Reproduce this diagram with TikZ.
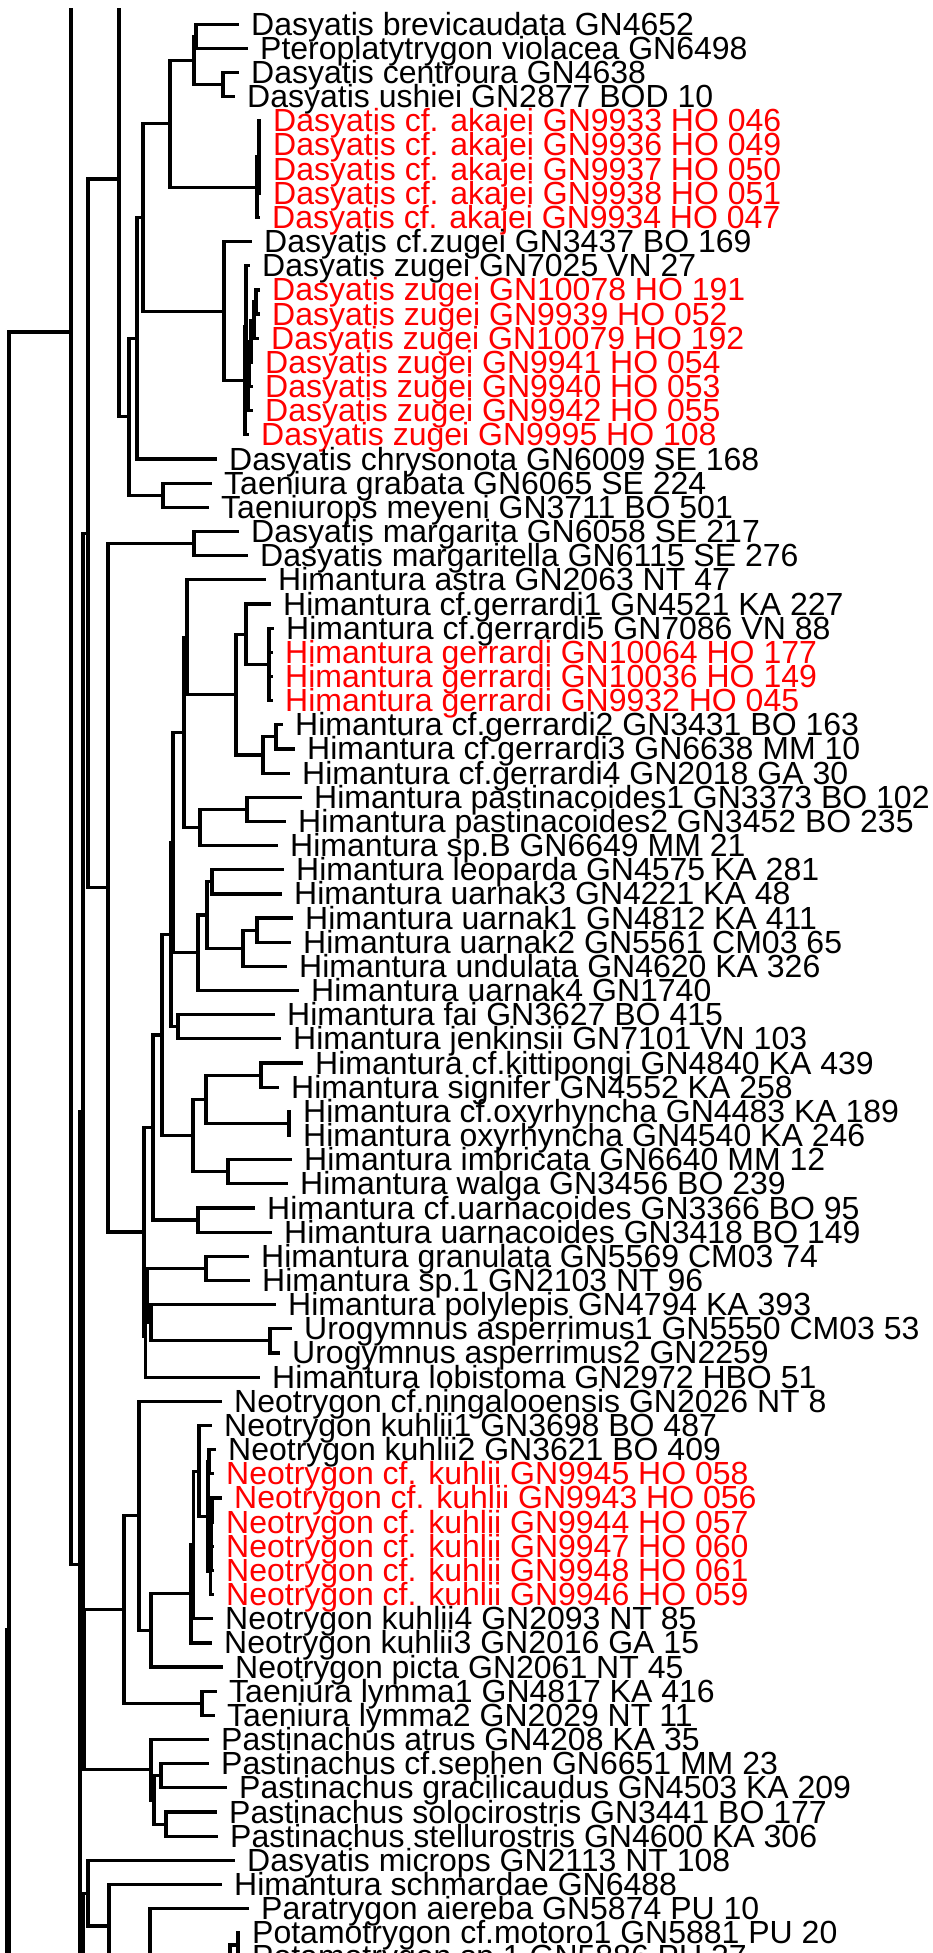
\documentclass[tikz,border=0pt]{standalone}
\usepackage{fontspec}
\setmainfont{Liberation Sans}
\definecolor{hl}{RGB}{255,0,0}
\newcommand\mkleaf[4]{\coordinate (l#1) at (#2,#1);
  \node[lab,text=#4] (t#1) at ([xshift=12pt,yshift=-11pt]l#1) {#3};}
\begin{document}
\begin{tikzpicture}[x=1pt,y=-24.16pt,
  br/.style={line width=3.2pt},
  lab/.style={inner sep=0pt,anchor=base west,font=\fontsize{32}{32}\selectfont}]
\useasboundingbox (0,0) rectangle (932,80.836);
% internal nodes
\coordinate (X7) at (7,100);
\coordinate (X7o) at (30,132);
\coordinate (X9) at (9,67.47);
\coordinate (X9o) at (40,121.2);
\coordinate (X71) at (71,13.74);
\coordinate (X71o) at (100,-37.26);
\coordinate (X80) at (80,64.74);
\coordinate (PP) at (83,83.47);
\coordinate (PPo) at (120,88.58);
\coordinate (L) at (83,46.01);
\coordinate (L2) at (84,69.94);
\coordinate (K) at (88,22.08);
\coordinate (J) at (119,7.41);
\coordinate (Jo) at (150,-2.43);
\coordinate (H) at (129,17.25);
\coordinate (G) at (137,14.0);
\coordinate (E) at (143,9.0);
\coordinate (D) at (170,5.125);
\coordinate (B) at (194,2.5);
\coordinate (A) at (196,1.5);
\coordinate (C) at (223,3.5);
\coordinate (AK) at (257,7.75);
\coordinate (AK1) at (259,6.5);
\coordinate (F) at (224,12.88);
\coordinate (VV) at (245,15.76);
\coordinate (XX) at (246,13.52);
\coordinate (YY) at (248,16.03);
\coordinate (Y2) at (249,15.06);
\coordinate (Y3) at (251,14.125);
\coordinate (Y4) at (254,13.25);
\coordinate (Y5) at (256,12.5);
\coordinate (I) at (163,20.5);
\coordinate (M) at (108,36.75);
\coordinate (N) at (194,22.5);
\coordinate (O) at (144,50.99);
\coordinate (P) at (153,46.67);
\coordinate (Q) at (162,42.84);
\coordinate (R) at (171,38.69);
\coordinate (U) at (173,34.875);
\coordinate (W) at (184,30.31);
\coordinate (V) at (187,26.375);
\coordinate (X236) at (236,28.75);
\coordinate (Y246) at (246,26.25);
\coordinate (Z) at (269,27.5);
\coordinate (N263) at (263,31.25);
\coordinate (N276) at (276,30.5);
\coordinate (N200) at (200,34.25);
\coordinate (N247) at (247,33.5);
\coordinate (N198) at (198,39.44);
\coordinate (N207) at (207,37.875);
\coordinate (N212) at (212,36.5);
\coordinate (N243) at (243,39.25);
\coordinate (N257) at (257,38.5);
\coordinate (FJ) at (178,42.5);
\coordinate (S) at (193,47.0);
\coordinate (T) at (206,45.5);
\coordinate (KS) at (261,44.5);
\coordinate (OX) at (289,46.5);
\coordinate (IW) at (228,48.5);
\coordinate (UA) at (198,50.5);
\coordinate (O4) at (145.5,55.31);
\coordinate (O3) at (147,53.625);
\coordinate (G2) at (206,52.5);
\coordinate (PU) at (151,54.75);
\coordinate (URO) at (270,55.5);
\coordinate (BB) at (124,66.62);
\coordinate (NN) at (151,73.25);
\coordinate (CC) at (139,62.74);
\coordinate (TL) at (202,70.5);
\coordinate (DD) at (151,67.49);
\coordinate (EE) at (191,65.97);
\coordinate (JJ) at (193.5,63.95);
\coordinate (GG) at (199,60.89);
\coordinate (HH) at (208,62.78);
\coordinate (N60) at (209,60.5);
\coordinate (C62) at (210.5,65.06);
\coordinate (C62c) at (211,64.125);
\coordinate (C62b) at (211.5,63.25);
\coordinate (C62a) at (212,62.5);
\coordinate (MM) at (154,74.5);
\coordinate (KK) at (161,73.5);
\coordinate (LL) at (166,75.5);
\coordinate (OO) at (88,78.36);
\coordinate (QQ) at (109,79.72);
\coordinate (RR) at (150,81.44);
\coordinate (POT) at (230,83.88);
\coordinate (POT2) at (238,80.5);
\coordinate (POTo) at (260,87.26);
% leaves
\mkleaf{1}{239}{Dasyatis brevicaudata GN4652}{black}
\mkleaf{2}{248}{Pteroplatytrygon violacea GN6498}{black}
\mkleaf{3}{239}{Dasyatis centroura GN4638}{black}
\mkleaf{4}{235}{Dasyatis ushiei GN2877 BOD 10}{black}
\mkleaf{5}{261}{Dasyatis cf. akajei GN9933 HO 046}{hl}
\mkleaf{6}{261}{Dasyatis cf. akajei GN9936 HO 049}{hl}
\mkleaf{7}{261}{Dasyatis cf. akajei GN9937 HO 050}{hl}
\mkleaf{8}{261}{Dasyatis cf. akajei GN9938 HO 051}{hl}
\mkleaf{9}{260}{Dasyatis cf. akajei GN9934 HO 047}{hl}
\mkleaf{10}{252}{Dasyatis cf.zugei GN3437 BO 169}{black}
\mkleaf{11}{250}{Dasyatis zugei GN7025 VN 27}{black}
\mkleaf{12}{260}{Dasyatis zugei GN10078 HO 191}{hl}
\mkleaf{13}{260}{Dasyatis zugei GN9939 HO 052}{hl}
\mkleaf{14}{259}{Dasyatis zugei GN10079 HO 192}{hl}
\mkleaf{15}{253}{Dasyatis zugei GN9941 HO 054}{hl}
\mkleaf{16}{253}{Dasyatis zugei GN9940 HO 053}{hl}
\mkleaf{17}{253}{Dasyatis zugei GN9942 HO 055}{hl}
\mkleaf{18}{249}{Dasyatis zugei GN9995 HO 108}{hl}
\mkleaf{19}{217}{Dasyatis chrysonota GN6009 SE 168}{black}
\mkleaf{20}{212}{Taeniura grabata GN6065 SE 224}{black}
\mkleaf{21}{209}{Taeniurops meyeni GN3711 BO 501}{black}
\mkleaf{22}{239}{Dasyatis margarita GN6058 SE 217}{black}
\mkleaf{23}{248}{Dasyatis margaritella GN6115 SE 276}{black}
\mkleaf{24}{266}{Himantura astra GN2063 NT 47}{black}
\mkleaf{25}{271}{Himantura cf.gerrardi1 GN4521 KA 227}{black}
\mkleaf{26}{274}{Himantura cf.gerrardi5 GN7086 VN 88}{black}
\mkleaf{27}{273}{Himantura gerrardi GN10064 HO 177}{hl}
\mkleaf{28}{273}{Himantura gerrardi GN10036 HO 149}{hl}
\mkleaf{29}{273}{Himantura gerrardi GN9932 HO 045}{hl}
\mkleaf{30}{283}{Himantura cf.gerrardi2 GN3431 BO 163}{black}
\mkleaf{31}{295}{Himantura cf.gerrardi3 GN6638 MM 10}{black}
\mkleaf{32}{290}{Himantura cf.gerrardi4 GN2018 GA 30}{black}
\mkleaf{33}{302}{Himantura pastinacoides1 GN3373 BO 102}{black}
\mkleaf{34}{286}{Himantura pastinacoides2 GN3452 BO 235}{black}
\mkleaf{35}{278}{Himantura sp.B GN6649 MM 21}{black}
\mkleaf{36}{284}{Himantura leoparda GN4575 KA 281}{black}
\mkleaf{37}{282}{Himantura uarnak3 GN4221 KA 48}{black}
\mkleaf{38}{293}{Himantura uarnak1 GN4812 KA 411}{black}
\mkleaf{39}{291}{Himantura uarnak2 GN5561 CM03 65}{black}
\mkleaf{40}{287}{Himantura undulata GN4620 KA 326}{black}
\mkleaf{41}{299}{Himantura uarnak4 GN1740}{black}
\mkleaf{42}{275}{Himantura fai GN3627 BO 415}{black}
\mkleaf{43}{281}{Himantura jenkinsii GN7101 VN 103}{black}
\mkleaf{44}{303}{Himantura cf.kittipongi GN4840 KA 439}{black}
\mkleaf{45}{279}{Himantura signifer GN4552 KA 258}{black}
\mkleaf{46}{291}{Himantura cf.oxyrhyncha GN4483 KA 189}{black}
\mkleaf{47}{291}{Himantura oxyrhyncha GN4540 KA 246}{black}
\mkleaf{48}{292}{Himantura imbricata GN6640 MM 12}{black}
\mkleaf{49}{288}{Himantura walga GN3456 BO 239}{black}
\mkleaf{50}{255}{Himantura cf.uarnacoides GN3366 BO 95}{black}
\mkleaf{51}{272}{Himantura uarnacoides GN3418 BO 149}{black}
\mkleaf{52}{249}{Himantura granulata GN5569 CM03 74}{black}
\mkleaf{53}{250}{Himantura sp.1 GN2103 NT 96}{black}
\mkleaf{54}{276}{Himantura polylepis GN4794 KA 393}{black}
\mkleaf{55}{292}{Urogymnus asperrimus1 GN5550 CM03 53}{black}
\mkleaf{56}{280}{Urogymnus asperrimus2 GN2259}{black}
\mkleaf{57}{260}{Himantura lobistoma GN2972 HBO 51}{black}
\mkleaf{58}{222}{Neotrygon cf.ningalooensis GN2026 NT 8}{black}
\mkleaf{59}{212}{Neotrygon kuhlii1 GN3698 BO 487}{black}
\mkleaf{60}{216}{Neotrygon kuhlii2 GN3621 BO 409}{black}
\mkleaf{61}{214}{Neotrygon cf. kuhlii GN9945 HO 058}{hl}
\mkleaf{62}{222}{Neotrygon cf. kuhlii GN9943 HO 056}{hl}
\mkleaf{63}{214}{Neotrygon cf. kuhlii GN9944 HO 057}{hl}
\mkleaf{64}{214}{Neotrygon cf. kuhlii GN9947 HO 060}{hl}
\mkleaf{65}{214}{Neotrygon cf. kuhlii GN9948 HO 061}{hl}
\mkleaf{66}{214}{Neotrygon cf. kuhlii GN9946 HO 059}{hl}
\mkleaf{67}{213}{Neotrygon kuhlii4 GN2093 NT 85}{black}
\mkleaf{68}{212}{Neotrygon kuhlii3 GN2016 GA 15}{black}
\mkleaf{69}{223}{Neotrygon picta GN2061 NT 45}{black}
\mkleaf{70}{217}{Taeniura lymma1 GN4817 KA 416}{black}
\mkleaf{71}{215}{Taeniura lymma2 GN2029 NT 11}{black}
\mkleaf{72}{209}{Pastinachus atrus GN4208 KA 35}{black}
\mkleaf{73}{209}{Pastinachus cf.sephen GN6651 MM 23}{black}
\mkleaf{74}{227}{Pastinachus gracilicaudus GN4503 KA 209}{black}
\mkleaf{75}{217}{Pastinachus solocirostris GN3441 BO 177}{black}
\mkleaf{76}{218}{Pastinachus stellurostris GN4600 KA 306}{black}
\mkleaf{77}{235}{Dasyatis microps GN2113 NT 108}{black}
\mkleaf{78}{222}{Himantura schmardae GN6488}{black}
\mkleaf{79}{249}{Paratrygon aiereba GN5874 PU 10}{black}
\mkleaf{80}{240}{Potamotrygon cf.motoro1 GN5881 PU 20}{black}
\mkleaf{81}{240}{Potamotrygon sp.1 GN5886 PU 27}{black}
% branches
\begin{scope}
\clip (0,0.3725) rectangle (932,80.836);
\foreach \p/\c in {X7/X9, X7/X7o, X9/X71, X9/X9o, X71/X71o, X71/X80, X80/L, X80/PP,
  PP/OO, PP/PPo, L/K, L/L2, K/J, K/M, J/Jo, J/H, H/G, H/I, G/E, G/l19, E/D, E/F,
  D/B, D/AK, B/A, B/C, A/l1, A/l2, C/l3, C/l4, AK/AK1, AK/l9, AK1/l5, AK1/l6, AK1/l7, AK1/l8,
  F/l10, F/VV, VV/XX, VV/l18, XX/l11, XX/YY, YY/Y2, YY/l17, Y2/Y3, Y2/l16, Y3/Y4, Y3/l15,
  Y4/Y5, Y4/l14, Y5/l12, Y5/l13, I/l20, I/l21, M/N, M/O, N/l22, N/l23, O/P, O/O4,
  P/Q, P/UA, Q/R, Q/S, R/U, R/FJ, U/W, U/N198, W/V, W/N200, V/l24, V/X236,
  X236/Y246, X236/N263, Y246/l25, Y246/Z, Z/l26, Z/l27, Z/l28, Z/l29, N263/N276, N263/l32,
  N276/l30, N276/l31, N200/N247, N200/l35, N247/l33, N247/l34, N198/N207, N198/l41,
  N207/N212, N207/N243, N212/l36, N212/l37, N243/N257, N243/l40, N257/l38, N257/l39,
  FJ/l42, FJ/l43, S/T, S/IW, T/KS, T/OX, KS/l44, KS/l45, OX/l46, OX/l47, IW/l48, IW/l49,
  UA/l50, UA/l51, O4/O3, O4/l57, O3/G2, O3/PU, G2/l52, G2/l53, PU/l54, PU/URO,
  URO/l55, URO/l56, L2/BB, L2/NN, BB/CC, BB/TL, CC/l58, CC/DD, DD/EE, DD/l69,
  EE/JJ, EE/l68, JJ/GG, JJ/l67, GG/l59, GG/HH, HH/N60, HH/C62, N60/l60, N60/l61,
  C62/C62c, C62/l66, C62c/C62b, C62c/l65, C62b/C62a, C62b/l64, C62a/l62, C62a/l63,
  TL/l70, TL/l71, NN/l72, NN/MM, MM/KK, MM/LL, KK/l73, KK/l74, LL/l75, LL/l76,
  OO/l77, OO/QQ, QQ/l78, QQ/RR, RR/l79, RR/POT, POT/POT2, POT/POTo, POT2/l80, POT2/l81}
  \draw[br] (\p) |- (\c);
\end{scope}
\end{tikzpicture}
\end{document}
